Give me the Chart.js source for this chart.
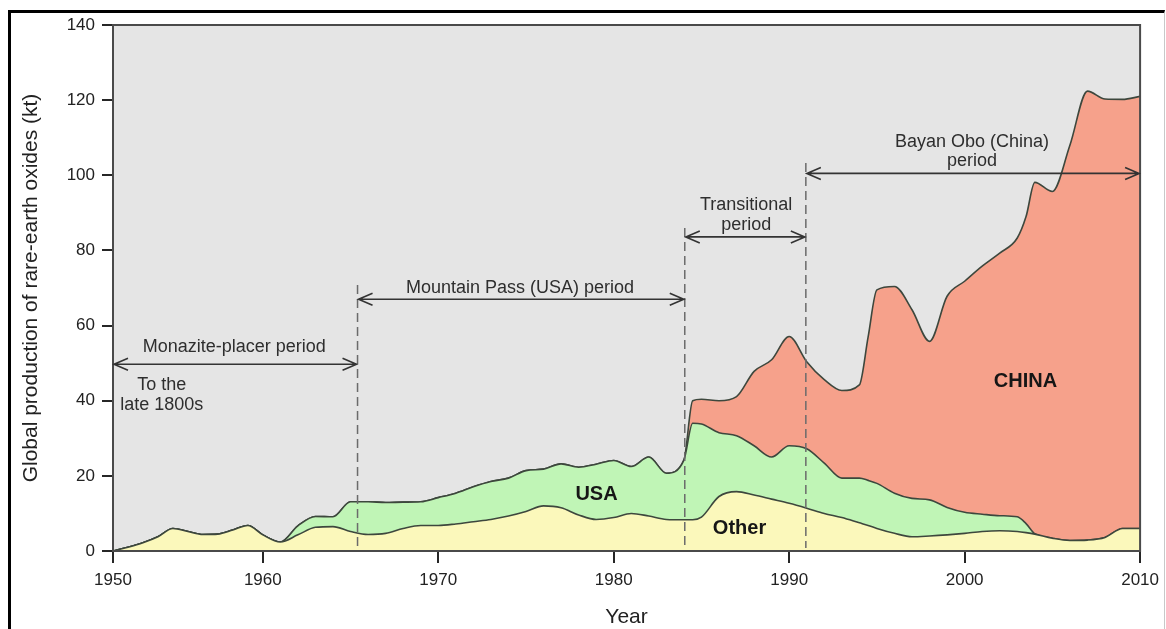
<!DOCTYPE html>
<html>
<head>
<meta charset="utf-8">
<script src="https://cdn.jsdelivr.net/npm/chart.js@4.4.1/dist/chart.umd.min.js"></script>
<style>
    html, body { margin: 0; padding: 0; background: #fff; }
    #wrap { position: relative; width: 1166px; height: 629px; overflow: hidden; }
    #wrap canvas { position: absolute; left: 0; top: 0; }
    #frame {
        position: absolute; left: 8px; top: 10px; right: 1px; bottom: -4px;
        border-top: 3px solid #000; border-left: 3px solid #000; border-right: 1px solid #c8c8c8;
        pointer-events: none;
    }
</style>
</head>
<body>
<div id="wrap">
    <canvas id="reoChart" width="1166" height="629"></canvas>
    <div id="frame"></div>
</div>
<script>
// Global production of rare-earth oxides (kt)
const years = [
    1950, 1951, 1952, 1953, 1954, 1955, 1956, 1957, 1958, 1959,
    1960, 1961, 1962, 1963, 1964, 1965, 1966, 1967, 1968, 1969,
    1970, 1971, 1972, 1973, 1974, 1975, 1976, 1977, 1978, 1979,
    1980, 1981, 1982, 1983, 1984, 1984.5, 1985, 1986, 1987, 1988, 1989,
    1990, 1991, 1992, 1993, 1994, 1994.5, 1995, 1996, 1997, 1998, 1999,
    2000, 2001, 2002, 2003, 2003.5, 2004, 2005, 2006, 2007, 2008, 2009,
    2010
];
const otherKt = [
    0, 1.0, 2.2, 3.8, 6.0, 5.2, 4.4, 4.5, 5.6, 6.8,
    4.3, 2.4, 4.3, 6.3, 6.5, 5.2, 4.4, 4.7, 6.0, 6.8,
    6.8, 7.2, 7.8, 8.4, 9.3, 10.5, 12.0, 11.5, 9.6, 8.4,
    8.9, 10.0, 9.3, 8.4, 8.3, 8.3, 9.0, 14.5, 15.8, 14.9, 13.8,
    12.7, 11.4, 10.0, 8.9, 7.5, 6.8, 6.0, 4.7, 3.8, 4.0, 4.3,
    4.7, 5.2, 5.4, 5.2, 4.9, 4.5, 3.4, 2.8, 2.9, 3.6, 6.0,
    6.0
];
const usaKt = [
    0, 0, 0, 0, 0, 0, 0, 0, 0, 0,
    0, 0, 2.4, 2.9, 2.6, 7.9, 8.7, 8.2, 7.0, 6.3,
    7.4, 8.2, 9.3, 10.1, 10.1, 10.9, 9.8, 11.7, 12.7, 14.7,
    15.2, 12.5, 15.7, 12.3, 15.9, 25.7, 24.8, 17.0, 14.9, 13.1, 11.2,
    15.3, 15.8, 13.4, 10.5, 11.9, 12.0, 12.0, 10.7, 10.2, 9.6, 7.3,
    5.6, 4.6, 4.0, 3.9, 2.4, 0.1, 0, 0, 0, 0, 0,
    0
];
const chinaKt = [
    0, 0, 0, 0, 0, 0, 0, 0, 0, 0,
    0, 0, 0, 0, 0, 0, 0, 0, 0, 0,
    0, 0, 0, 0, 0, 0, 0, 0, 0, 0,
    0, 0, 0, 0, 0, 6.0, 6.6, 8.5, 10.4, 19.8, 25.9,
    29.1, 23.2, 22.2, 23.3, 24.8, 38.2, 51.5, 55.0, 50.2, 42.2, 56.2,
    61.5, 66.0, 69.9, 74.2, 81.7, 93.5, 92.3, 105.2, 119.5, 116.7, 114.2,
    115.0
];
const xTicks = [1950, 1960, 1970, 1980, 1990, 2000, 2010];
const yTicks = [0, 20, 40, 60, 80, 100, 120, 140];

// period annotations, in data units (year, kt)
const periodArrows = [
    { from: 1950, to: 1965.4, at: 49.7 },
    { from: 1965.4, to: 1984.05, at: 67.0 },
    { from: 1984.05, to: 1990.95, at: 83.6 },
    { from: 1990.95, to: 2010, at: 100.5 }
];
const periodDividers = [
    { year: 1965.4, top: 70.8 },
    { year: 1984.05, top: 86.0 },
    { year: 1990.95, top: 103.3 }
];
const periodNotes = [
    { text: 'Monazite-placer period', year: 1958.1, kt: 52.9 },
    { text: 'To the', year: 1953.25, kt: 42.8 },
    { text: 'late 1800s', year: 1953.25, kt: 37.5 },
    { text: 'Mountain Pass (USA) period', year: 1974.66, kt: 68.7 },
    { text: 'Transitional', year: 1987.55, kt: 90.7 },
    { text: 'period', year: 1987.55, kt: 85.4 },
    { text: 'Bayan Obo (China)', year: 2000.42, kt: 107.6 },
    { text: 'period', year: 2000.42, kt: 102.4 }
];
const areaNames = [
    { text: 'USA', year: 1979.02, kt: 13.5 },
    { text: 'Other', year: 1987.17, kt: 4.6 },
    { text: 'CHINA', year: 2003.47, kt: 43.7 }
];

const FONT = 'Arial, "Liberation Sans", Helvetica, sans-serif';
const OUTLINE = '#3d473d';
const INK = '#2e2e2e';

// the original axis squeezes 1950-1960 (150px) against the later decades (~176px)
const FIRST_DECADE_SQUEEZE = 150 / 175.7;

class SplitYearScale extends Chart.LinearScale {
    static id = 'splitYear';
    static defaults = {};

    warp(v) {
        return v < 1960 ? 1960 - (1960 - v) * FIRST_DECADE_SQUEEZE : v;
    }

    unwarp(u) {
        return u < 1960 ? 1960 - (1960 - u) / FIRST_DECADE_SQUEEZE : u;
    }

    getPixelForValue(value) {
        if (value === null || value === undefined) return NaN;
        const a = this.warp(this.min);
        const b = this.warp(this.max);
        return this.getPixelForDecimal((this.warp(value) - a) / (b - a));
    }

    getValueForPixel(pixel) {
        const a = this.warp(this.min);
        const b = this.warp(this.max);
        return this.unwarp(a + this.getDecimalForPixel(pixel) * (b - a));
    }
}
Chart.register(SplitYearScale);

const periodPlugin = {
    id: 'periods',
    beforeDraw(chart) {
        const { ctx, chartArea: a } = chart;
        ctx.save();
        ctx.fillStyle = '#e5e5e5';
        ctx.fillRect(a.left, a.top, a.right - a.left, a.bottom - a.top);
        ctx.restore();
    },
    afterDatasetsDraw(chart) {
        const { ctx, chartArea: a } = chart;
        const x = chart.scales.x;
        const y = chart.scales.y;

        ctx.save();

        // plot frame
        ctx.strokeStyle = '#4a4a4a';
        ctx.lineWidth = 2;
        ctx.strokeRect(a.left, a.top, a.right - a.left, a.bottom - a.top);

        // dashed period boundaries
        ctx.strokeStyle = '#6b6b6b';
        ctx.lineWidth = 1.5;
        ctx.setLineDash([9, 5]);
        periodDividers.forEach(d => {
            const px = x.getPixelForValue(d.year);
            ctx.beginPath();
            ctx.moveTo(px, y.getPixelForValue(d.top));
            ctx.lineTo(px, y.getPixelForValue(0.8));
            ctx.stroke();
        });
        ctx.setLineDash([]);

        // double-headed arrows
        ctx.strokeStyle = '#333';
        ctx.lineWidth = 1.6;
        periodArrows.forEach(p => {
            const x1 = x.getPixelForValue(p.from) + 1;
            const x2 = x.getPixelForValue(p.to) - 1;
            const py = y.getPixelForValue(p.at);
            ctx.beginPath();
            ctx.moveTo(x1, py);
            ctx.lineTo(x2, py);
            ctx.moveTo(x1 + 14, py - 6);
            ctx.lineTo(x1, py);
            ctx.lineTo(x1 + 14, py + 6);
            ctx.moveTo(x2 - 14, py - 6);
            ctx.lineTo(x2, py);
            ctx.lineTo(x2 - 14, py + 6);
            ctx.stroke();
        });

        ctx.textAlign = 'center';
        ctx.textBaseline = 'alphabetic';
        ctx.fillStyle = INK;
        ctx.font = '18px ' + FONT;
        periodNotes.forEach(n => {
            ctx.fillText(n.text, x.getPixelForValue(n.year), y.getPixelForValue(n.kt));
        });

        ctx.fillStyle = '#161616';
        ctx.font = 'bold 20px ' + FONT;
        areaNames.forEach(n => {
            ctx.fillText(n.text, x.getPixelForValue(n.year), y.getPixelForValue(n.kt));
        });

        ctx.restore();
    }
};

function areaSeries(label, values, color, fill) {
    return {
        label: label,
        data: years.map((yr, i) => ({ x: yr, y: values[i] })),
        backgroundColor: color,
        borderColor: OUTLINE,
        borderWidth: 1.6,
        fill: fill,
        pointRadius: 0,
        cubicInterpolationMode: 'monotone'
    };
}

new Chart(document.getElementById('reoChart').getContext('2d'), {
    type: 'line',
    data: {
        datasets: [
            areaSeries('Other', otherKt, '#fbf8bb', 'origin'),
            areaSeries('USA', usaKt, '#c0f5b6', '-1'),
            areaSeries('China', chinaKt, '#f6a18b', '-1')
        ]
    },
    options: {
        responsive: false,
        animation: false,
        devicePixelRatio: 1,
        layout: { padding: { left: 0, top: 25, right: 24, bottom: 0 } },
        plugins: {
            legend: { display: false },
            tooltip: { enabled: false }
        },
        scales: {
            x: {
                type: 'splitYear',
                min: 1950,
                max: 2010,
                afterBuildTicks: scale => { scale.ticks = xTicks.map(v => ({ value: v })); },
                afterFit: scale => { scale.height = 78; },
                border: { display: false },
                grid: { drawOnChartArea: false, drawTicks: true, tickLength: 12, tickColor: '#262626', lineWidth: 2 },
                ticks: {
                    padding: 7,
                    color: '#222',
                    font: { family: FONT, size: 17 },
                    maxRotation: 0,
                    callback: value => String(value)
                },
                title: {
                    display: true,
                    text: 'Year',
                    color: '#222',
                    font: { family: FONT, size: 21, lineHeight: 1 },
                    padding: { top: 0, bottom: 1 }
                }
            },
            y: {
                stacked: true,
                min: 0,
                max: 140,
                afterBuildTicks: scale => { scale.ticks = yTicks.map(v => ({ value: v })); },
                afterFit: scale => { scale.width = 113; },
                border: { display: false },
                grid: { drawOnChartArea: false, drawTicks: true, tickLength: 11, tickColor: '#262626', lineWidth: 2 },
                ticks: {
                    padding: 7,
                    color: '#222',
                    font: { family: FONT, size: 17 },
                    callback: value => String(value)
                },
                title: {
                    display: true,
                    text: 'Global production of rare-earth oxides (kt)',
                    color: '#222',
                    font: { family: FONT, size: 21, lineHeight: 1 },
                    padding: { top: 20.5, bottom: 0 }
                }
            }
        }
    },
    plugins: [periodPlugin]
});
</script>
</body>
</html>
